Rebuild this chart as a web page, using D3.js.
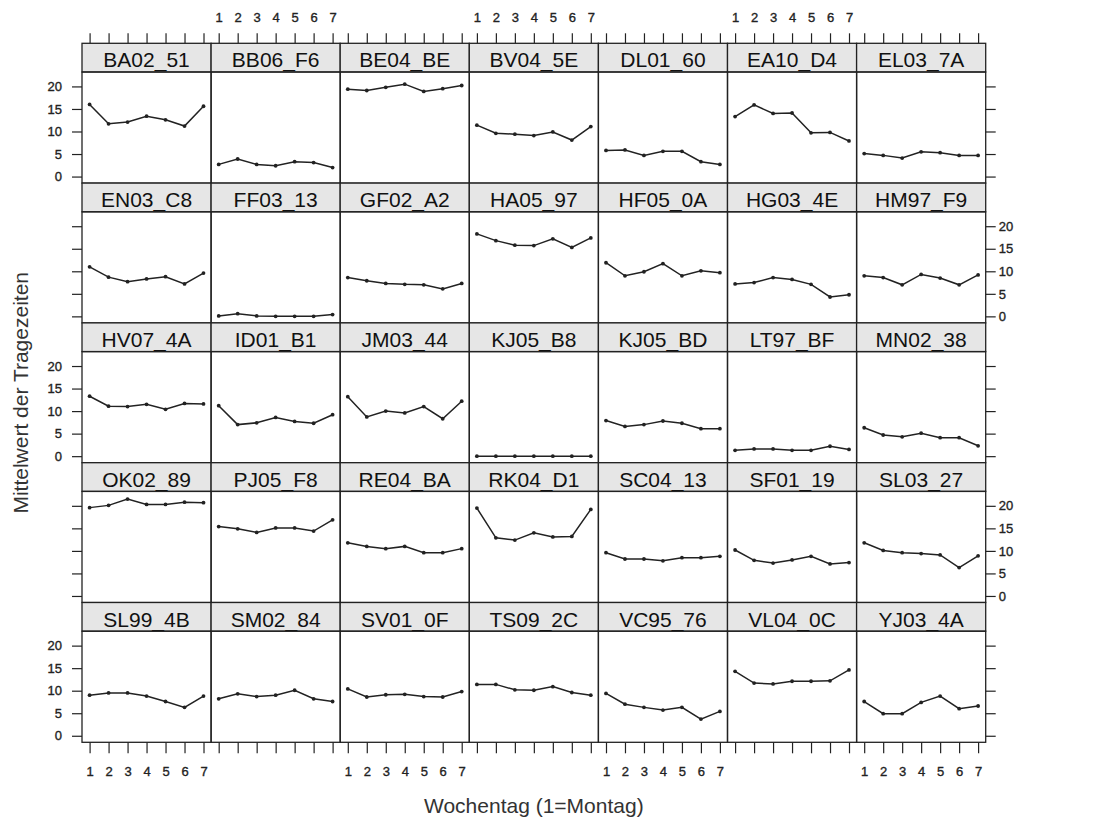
<!DOCTYPE html>
<html>
<head>
<meta charset="utf-8">
<script src="https://cdn.jsdelivr.net/npm/d3@7"></script>
<style>
  body { margin: 0; background: #fff; }
  text { font-family: "Liberation Sans", Arial, sans-serif; }
</style>
</head>
<body>
<script>
// wear time means per person and weekday (1 = Monday)
var days = [1, 2, 3, 4, 5, 6, 7];
var yTicks = [0, 5, 10, 15, 20];

var panelIds = [
  "BA02_51", "BB06_F6", "BE04_BE", "BV04_5E", "DL01_60", "EA10_D4", "EL03_7A",
  "EN03_C8", "FF03_13", "GF02_A2", "HA05_97", "HF05_0A", "HG03_4E", "HM97_F9",
  "HV07_4A", "ID01_B1", "JM03_44", "KJ05_B8", "KJ05_BD", "LT97_BF", "MN02_38",
  "OK02_89", "PJ05_F8", "RE04_BA", "RK04_D1", "SC04_13", "SF01_19", "SL03_27",
  "SL99_4B", "SM02_84", "SV01_0F", "TS09_2C", "VC95_76", "VL04_0C", "YJ03_4A"
];

var meanWear = [
  [16.0, 11.7, 12.1, 13.4, 12.6, 11.2, 15.6],
  [2.7, 3.9, 2.7, 2.4, 3.3, 3.1, 2.0],
  [19.4, 19.1, 19.8, 20.5, 18.9, 19.5, 20.2],
  [11.4, 9.6, 9.4, 9.1, 9.9, 8.1, 11.1],
  [5.8, 5.9, 4.7, 5.6, 5.6, 3.3, 2.7],
  [13.3, 15.9, 14.0, 14.1, 9.7, 9.8, 7.9],
  [5.1, 4.7, 4.1, 5.5, 5.3, 4.7, 4.7],

  [11.0, 8.7, 7.7, 8.3, 8.8, 7.2, 9.6],
  [0.1, 0.6, 0.1, 0.0, 0.0, 0.0, 0.4],
  [8.6, 7.9, 7.3, 7.1, 7.0, 6.1, 7.3],
  [18.3, 16.8, 15.8, 15.7, 17.2, 15.3, 17.4],
  [11.9, 9.0, 9.9, 11.7, 9.0, 10.1, 9.7],
  [7.2, 7.5, 8.6, 8.2, 7.1, 4.3, 4.8],
  [9.0, 8.6, 7.0, 9.3, 8.5, 7.0, 9.2],

  [13.3, 11.1, 11.0, 11.5, 10.4, 11.7, 11.6],
  [11.2, 7.0, 7.4, 8.6, 7.7, 7.3, 9.2],
  [13.2, 8.7, 10.0, 9.6, 11.0, 8.3, 12.2],
  [0.0, 0.0, 0.0, 0.0, 0.0, 0.0, 0.0],
  [7.9, 6.6, 7.0, 7.8, 7.3, 6.1, 6.1],
  [1.3, 1.6, 1.6, 1.3, 1.3, 2.2, 1.5],
  [6.3, 4.7, 4.3, 5.1, 4.1, 4.1, 2.3],

  [19.6, 20.1, 21.5, 20.3, 20.3, 20.8, 20.7],
  [15.4, 14.9, 14.1, 15.1, 15.1, 14.4, 16.9],
  [11.8, 11.0, 10.5, 11.0, 9.6, 9.6, 10.5],
  [19.5, 12.9, 12.4, 14.0, 13.1, 13.2, 19.2],
  [9.6, 8.2, 8.2, 7.8, 8.5, 8.5, 8.8],
  [10.2, 7.9, 7.3, 8.0, 8.8, 7.1, 7.4],
  [11.8, 10.1, 9.6, 9.4, 9.1, 6.3, 8.9],

  [9.0, 9.5, 9.5, 8.8, 7.6, 6.3, 8.8],
  [8.2, 9.3, 8.7, 9.0, 10.1, 8.2, 7.6],
  [10.4, 8.6, 9.1, 9.2, 8.7, 8.6, 9.8],
  [11.4, 11.4, 10.2, 10.1, 10.9, 9.6, 9.0],
  [9.4, 7.0, 6.3, 5.7, 6.3, 3.7, 5.4],
  [14.3, 11.7, 11.5, 12.1, 12.1, 12.2, 14.6],
  [7.6, 4.9, 4.9, 7.4, 8.8, 6.0, 6.6]
];

var nCols = 7, nRows = 5;
var gridLeft = 82, gridTop = 43.3;
var colW = 129.1, rowH = 139.8, stripH = 28.7;
var ink = "#222";

var svg = d3.select("body").append("svg")
  .attr("width", 1101)
  .attr("height", 821);

var x = d3.scaleLinear().domain([0.6, 7.4]).range([0, colW]);
var y = d3.scaleLinear().domain([-1.45, 23.2]).range([rowH - stripH, 0]);

var line = d3.line()
  .x(function(d, i) { return x(days[i]); })
  .y(function(d) { return y(d); });

function styleAxis(g) {
  g.select(".domain").remove();
  g.selectAll(".tick line").attr("stroke", ink).attr("stroke-width", 1.2);
  g.selectAll(".tick text")
    .attr("fill", ink)
    .attr("stroke", ink)
    .attr("stroke-width", 0.35)
    .style("font-size", "13px")
    .style("font-family", "'Liberation Sans', Arial, sans-serif");
}

var noLabel = function() { return ""; };

// x axes, top and bottom, labels alternate between them
for (var c = 0; c < nCols; c++) {
  svg.append("g")
    .attr("transform", "translate(" + (gridLeft + c * colW) + "," + gridTop + ")")
    .call(d3.axisTop(x).tickValues(days).tickSize(10).tickPadding(11)
      .tickFormat(c % 2 === 1 ? d3.format("d") : noLabel))
    .call(styleAxis);

  svg.append("g")
    .attr("transform", "translate(" + (gridLeft + c * colW) + "," + (gridTop + nRows * rowH) + ")")
    .call(d3.axisBottom(x).tickValues(days).tickSize(11).tickPadding(13)
      .tickFormat(c % 2 === 0 ? d3.format("d") : noLabel))
    .call(styleAxis);
}

// y axes, left and right
for (var r = 0; r < nRows; r++) {
  var py = gridTop + r * rowH + stripH;
  svg.append("g")
    .attr("transform", "translate(" + gridLeft + "," + py + ")")
    .call(d3.axisLeft(y).tickValues(yTicks).tickSize(10).tickPadding(10)
      .tickFormat(r % 2 === 0 ? d3.format("d") : noLabel))
    .call(styleAxis);

  svg.append("g")
    .attr("transform", "translate(" + (gridLeft + nCols * colW) + "," + py + ")")
    .call(d3.axisRight(y).tickValues(yTicks).tickSize(10).tickPadding(3)
      .tickFormat(r % 2 === 1 ? d3.format("d") : noLabel))
    .call(styleAxis);
}

// panels
var panel = svg.selectAll(".panel")
  .data(panelIds)
  .enter().append("g")
  .attr("class", "panel")
  .attr("transform", function(d, i) {
    return "translate(" + (gridLeft + (i % nCols) * colW) + "," + (gridTop + Math.floor(i / nCols) * rowH) + ")";
  });

panel.append("rect")
  .attr("width", colW)
  .attr("height", stripH)
  .attr("fill", "#e6e6e6")
  .attr("stroke", ink)
  .attr("stroke-width", 1.3);

panel.append("text")
  .attr("x", colW / 2)
  .attr("y", stripH - 4.5)
  .attr("text-anchor", "middle")
  .attr("fill", "#111")
  .style("font-size", "21px")
  .text(function(d) { return d; });

var plot = panel.append("g")
  .attr("transform", "translate(0," + stripH + ")");

plot.append("rect")
  .attr("width", colW)
  .attr("height", rowH - stripH)
  .attr("fill", "none")
  .attr("stroke", ink)
  .attr("stroke-width", 1.3);

plot.append("path")
  .attr("d", function(d, i) { return line(meanWear[i]); })
  .attr("fill", "none")
  .attr("stroke", ink)
  .attr("stroke-width", 1.5);

plot.selectAll("circle")
  .data(function(d, i) { return meanWear[i]; })
  .enter().append("circle")
  .attr("cx", function(d, j) { return x(days[j]); })
  .attr("cy", function(d) { return y(d); })
  .attr("r", 1.9)
  .attr("fill", ink);

// axis titles
svg.append("text")
  .attr("x", gridLeft + nCols * colW / 2)
  .attr("y", 813)
  .attr("text-anchor", "middle")
  .attr("fill", "#333")
  .style("font-size", "21px")
  .text("Wochentag (1=Montag)");

svg.append("text")
  .attr("transform", "translate(28," + (gridTop + nRows * rowH / 2) + ") rotate(-90)")
  .attr("text-anchor", "middle")
  .attr("fill", "#333")
  .style("font-size", "21px")
  .text("Mittelwert der Tragezeiten");
</script>
</body>
</html>
